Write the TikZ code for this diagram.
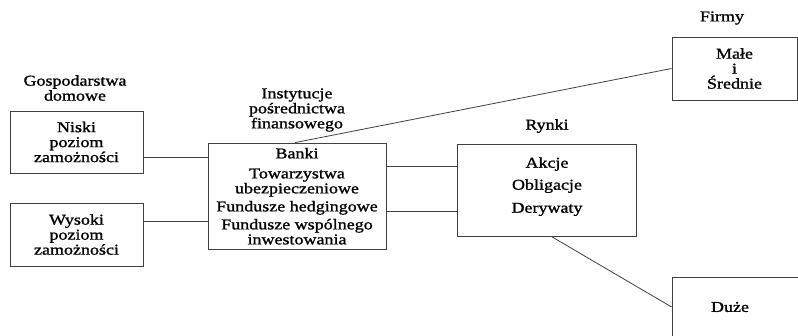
\documentclass[tikz,border=0pt]{standalone}
\usepackage{fontspec}
\setmainfont[FakeStretch=1.2,FakeBold=1.2]{Liberation Serif}
\usetikzlibrary{positioning}
\definecolor{linecolor}{rgb}{0.25, 0.25, 0.25}
\tikzset{box/.style={draw=linecolor, line width=0.8pt, align=center, inner sep=0pt}}
\tikzset{title/.style={align=center, inner sep=0pt}}
\tikzset{link/.style={draw=linecolor, line width=0.8pt}}

\begin{document}
\begin{tikzpicture}[x=1pt,y=-1pt,font=\rmfamily\fontsize{15}{15}\selectfont]
	\useasboundingbox (0,0) rectangle (798,336);
	\clip (0,0) rectangle (798,336);

	%%% NODES %%%

	% HOUSEHOLDS
	\node[title] at (75,88) (hhtitle) {Gospodarstwa\\domowe};
	\node[box, minimum width=133pt, minimum height=62pt] at (76.5,142) (niski) {Niski\\poziom\\zamożności};
	\node[box, minimum width=133pt, minimum height=63pt] at (76.5,234.5) (wysoki) {Wysoki\\poziom\\zamożności};

	% INTERMEDIARIES
	\node[title] at (297,110) (insttitle) {Instytucje\\pośrednictwa\\finansowego};
	\node[box, minimum width=178pt, minimum height=106.5pt] at (297,196.25) (inst) {Banki\\[5pt]Towarzystwa\\ubezpieczeniowe\\[3pt]Fundusze hedgingowe\\[3pt]Fundusze wspólnego\\inwestowania};

	% MARKETS
	\node[title] at (547,126) (rynkititle) {Rynki};
	\node[box, minimum width=179pt, minimum height=92pt] at (547,190.5) (rynki) {Akcje\\[7pt]Obligacje\\[8pt]Derywaty\\[-4pt]\mbox{}};

	% FIRMS
	\node[title] at (722,18) (firmytitle) {Firmy};
	\node[box, minimum width=125pt, minimum height=63pt] at (734.5,68.5) (firmy) {Małe\\i\\Średnie};
	\node[box, minimum width=132pt, minimum height=60pt] at (738,307) (duze) {\hspace*{-16pt}Duże};

	%%% ARROWS %%%
	\draw[link] (niski.east |- 0,157) -- (inst.west |- 0,157);
	\draw[link] (wysoki.east |- 0,221) -- (inst.west |- 0,221);
	\draw[link] (inst.east |- 0,166) -- (rynki.west |- 0,166);
	\draw[link] (inst.east |- 0,211) -- (rynki.west |- 0,211);
	\draw[link] ([xshift=-2pt]inst.north) -- (firmy.west);
	\draw[link] ([xshift=5pt]rynki.south) -- (duze.west);

\end{tikzpicture}
\end{document}
